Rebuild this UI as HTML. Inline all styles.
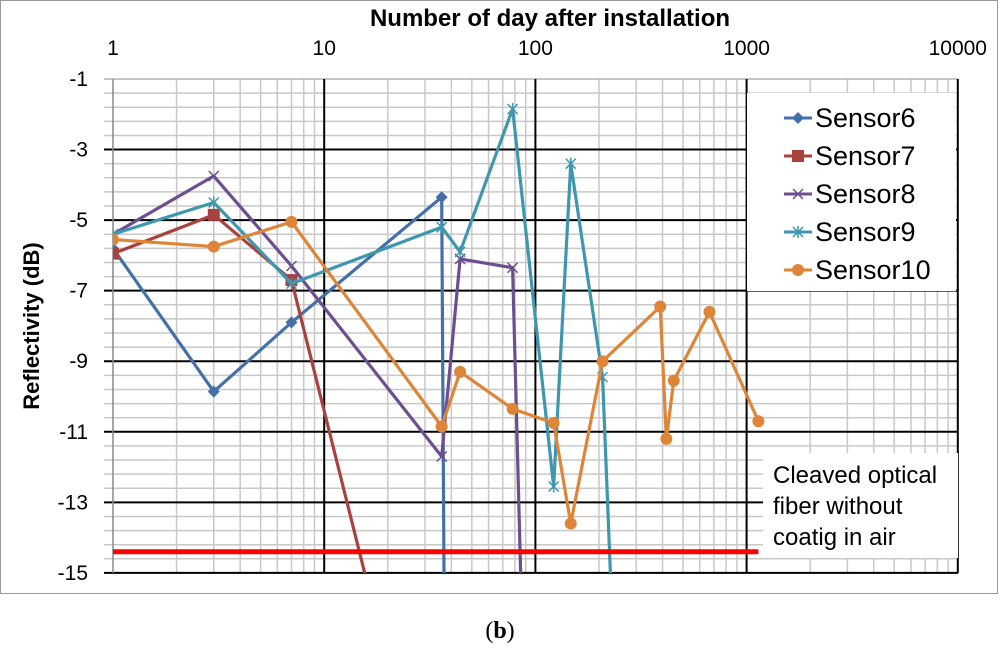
<!DOCTYPE html>
<html><head><meta charset="utf-8"><style>
html,body{margin:0;padding:0;background:#fff;width:1000px;height:648px;overflow:hidden}
svg{display:block;font-family:"Liberation Sans",sans-serif}
</style></head><body>
<svg id="chart" width="1000" height="648">
<rect x="0.5" y="0.5" width="997" height="593" fill="#fff" stroke="#999"/>
<g id="grid"></g>
<g id="series" clip-path="url(#clip)"></g>
<defs><clipPath id="clip"><rect x="113" y="79" width="845" height="494"/></clipPath></defs>
<g id="labels"></g>
<text x="550" y="26" text-anchor="middle" font-size="24" font-weight="bold">Number of day after installation</text>
<text transform="translate(39,326) rotate(-90)" text-anchor="middle" font-size="22" font-weight="bold">Reflectivity (dB)</text>
<text x="500" y="638" text-anchor="middle" font-size="24" font-family="Liberation Serif,serif">(<tspan font-weight="bold">b</tspan>)</text>
</svg>
<script>
const categories = ["Sensor6","Sensor7","Sensor8","Sensor9","Sensor10"];
const colors = ["#4470a9","#a9423f","#6d4f8f","#3e97ae","#de8538"];
const markers = ["diamond","square","x","star","circle"];
const s6Days = [1,3,7,36,37];
const s6Vals = [-5.8,-9.86,-7.9,-4.35,-16];
const s7Days = [1,3,7,16];
const s7Vals = [-5.95,-4.85,-6.7,-15.3];
const s8Days = [1,3,7,36,44,78,86];
const s8Vals = [-5.4,-3.75,-6.3,-11.7,-6.1,-6.35,-16];
const s9Days = [1,3,7,36,44,78,122,147,208,230];
const s9Vals = [-5.4,-4.5,-6.8,-5.2,-5.9,-1.85,-12.55,-3.4,-9.45,-16];
const s10Days = [1,3,7,36,44,78,122,147,208,390,417,452,667,1137];
const s10Vals = [-5.55,-5.75,-5.05,-10.85,-9.3,-10.35,-10.75,-13.6,-9.0,-7.45,-11.2,-9.55,-7.6,-10.7];
const refValue = -14.4;
const refDays = [1,1137];
const xTicks = [1,10,100,1000,10000];
const yTicks = [-1,-3,-5,-7,-9,-11,-13,-15];
const allDays=[s6Days,s7Days,s8Days,s9Days,s10Days], allVals=[s6Vals,s7Vals,s8Vals,s9Vals,s10Vals];
const X0=113,DEC=211.2,Y0=79,YU=35.28;
const xs=d=>X0+DEC*Math.log10(d);
const ys=v=>Y0+(-1-v)*YU;
const NS="http://www.w3.org/2000/svg";
function mk(t,a,p){const e=document.createElementNS(NS,t);for(const k in a)e.setAttribute(k,a[k]);p.appendChild(e);return e;}
const grid=document.getElementById('grid'),ser=document.getElementById('series'),lab=document.getElementById('labels');
for(let v=-1;v>=-15.01;v-=0.4){const y=ys(v);const l=mk('line',{x1:104,x2:958,y1:y,y2:y,stroke:'#c8c8c8','stroke-width':1.5},grid);

}
for(let e=0;e<4;e++)for(let m=2;m<10;m++){const x=xs(m*Math.pow(10,e));const l=mk('line',{x1:x,x2:x,y1:Y0,y2:ys(-15),stroke:'#c8c8c8','stroke-width':1.5},grid);

}
yTicks.forEach(v=>{const y=ys(v);const l=mk('line',{x1:104,x2:958,y1:y,y2:y,stroke:'#000','stroke-width':v===-1?1:2},grid);
if(v===-1)l.setAttribute('stroke','#aaa');


const t=mk('text',{x:88,y:y+7,'text-anchor':'end','font-size':21},lab);t.textContent=v;

});
xTicks.forEach(d=>{const x=xs(d);const l=mk('line',{x1:x,x2:x,y1:Y0,y2:ys(-15),stroke:d===1?'#888':'#000','stroke-width':d===1?1.5:2},grid);


const t=mk('text',{x:x,y:55,'text-anchor':'middle','font-size':21},lab);t.textContent=d;

});
function marker(kind,x,y,c,p){let e;
if(kind==='diamond')e=mk('path',{d:`M${x} ${y-6}L${x+6} ${y}L${x} ${y+6}L${x-6} ${y}Z`,fill:c},p);
else if(kind==='square')e=mk('rect',{x:x-6,y:y-6,width:12,height:12,fill:c},p);
else if(kind==='circle')e=mk('circle',{cx:x,cy:y,r:6,fill:c},p);
else if(kind==='x')e=mk('path',{d:`M${x-5} ${y-5}L${x+5} ${y+5}M${x-5} ${y+5}L${x+5} ${y-5}`,stroke:c,'stroke-width':1.5},p);
else e=mk('path',{d:`M${x-5} ${y-5}L${x+5} ${y+5}M${x-5} ${y+5}L${x+5} ${y-5}M${x} ${y-6}L${x} ${y+6}`,stroke:c,'stroke-width':1.5},p);
return e;}
categories.forEach((name,i)=>{const d=allDays[i],v=allVals[i];
const pts=d.map((dd,j)=>xs(dd)+','+ys(v[j])).join(' ');
const pl=mk('polyline',{points:pts,fill:'none',stroke:colors[i],'stroke-width':3.2,'stroke-linejoin':'round'},ser);


d.forEach((dd,j)=>{if(v[j]<-15)return;const m=marker(markers[i],xs(dd),ys(v[j]),colors[i],ser);

});});
const rl=mk('line',{x1:xs(refDays[0]),x2:xs(refDays[1]),y1:ys(refValue),y2:ys(refValue),stroke:'#ff0000','stroke-width':5},lab);


const lg=mk('g',{},lab);


mk('rect',{x:747,y:93,width:209,height:198,fill:'#fff'},lg);
categories.forEach((name,i)=>{const y=118+i*38;const g=mk('g',{},lg);


mk('line',{x1:784,x2:812,y1:y,y2:y,stroke:colors[i],'stroke-width':3},g);
marker(markers[i],798,y,colors[i],g);
const t=mk('text',{x:815,y:y+9,'font-size':27},g);t.textContent=name;});
const nb=mk('g',{},lab);


mk('rect',{x:763,y:453,width:195,height:105,fill:'#fff'},nb);
["Cleaved optical","fiber without","coatig in air"].forEach((s,i)=>{const t=mk('text',{x:773,y:483+i*31,'font-size':24},nb);t.textContent=s;});
</script>
</body></html>
